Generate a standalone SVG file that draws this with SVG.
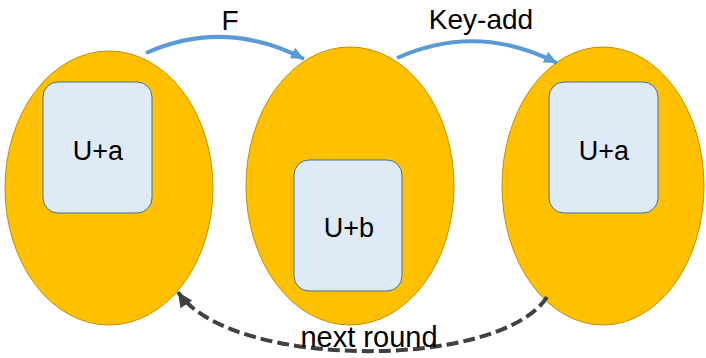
<svg xmlns="http://www.w3.org/2000/svg" width="706" height="358" viewBox="0 0 706 358">
  <style>
    .blob { fill: #FFC000; stroke: #BF9000; stroke-width: 1; }
    .box { fill: #DEEBF7; stroke: #41719C; stroke-width: 1; }
    .lbl { font-family: "Liberation Sans", Arial, sans-serif; font-size: 27px; fill: #000; text-anchor: middle; }
    .edge-lbl { font-size: 28px; }
    .flow { fill: none; stroke: #5B9BD5; stroke-width: 4; }
    .back { fill: none; stroke: #404040; stroke-width: 4; stroke-dasharray: 12 5; }
  </style>
  <defs>
    <marker id="headBlue" markerUnits="userSpaceOnUse" markerWidth="14" markerHeight="14" refX="13" refY="7" orient="auto">
      <path d="M0,1 L13,7 L0,13 Z" fill="#5B9BD5"/>
    </marker>
    <marker id="headDark" markerUnits="userSpaceOnUse" markerWidth="16" markerHeight="16" refX="15" refY="8" orient="auto">
      <path d="M0,1 L15,8 L0,15 Z" fill="#404040"/>
    </marker>
  </defs>

  <g id="state-1">
    <ellipse class="blob" cx="109" cy="188" rx="104" ry="137"/>
    <rect class="box" x="43" y="82" width="109" height="131" rx="15"/>
    <text class="lbl" x="98" y="160">U+a</text>
  </g>

  <g id="state-2">
    <ellipse class="blob" cx="350" cy="186" rx="104" ry="139"/>
    <rect class="box" x="294" y="160" width="108" height="131" rx="15"/>
    <text class="lbl" x="349" y="237">U+b</text>
  </g>

  <g id="state-3">
    <ellipse class="blob" cx="603" cy="186" rx="101" ry="139"/>
    <rect class="box" x="549" y="82" width="109" height="131" rx="15"/>
    <text class="lbl" x="604" y="160">U+a</text>
  </g>

  <g id="connectors">
    <path class="flow" d="M146,53 Q225,18 304,59" marker-end="url(#headBlue)"/>
    <path class="flow" d="M397,58 Q477,22 557,63" marker-end="url(#headBlue)"/>
    <path class="back" d="M547,297 C500,370 230,370 178,292" marker-end="url(#headDark)"/>
    <text class="lbl edge-lbl" x="230" y="30">F</text>
    <text class="lbl edge-lbl" x="481" y="29">Key-add</text>
    <text class="lbl" x="369" y="347" style="font-size:29px">next round</text>
  </g>
</svg>
